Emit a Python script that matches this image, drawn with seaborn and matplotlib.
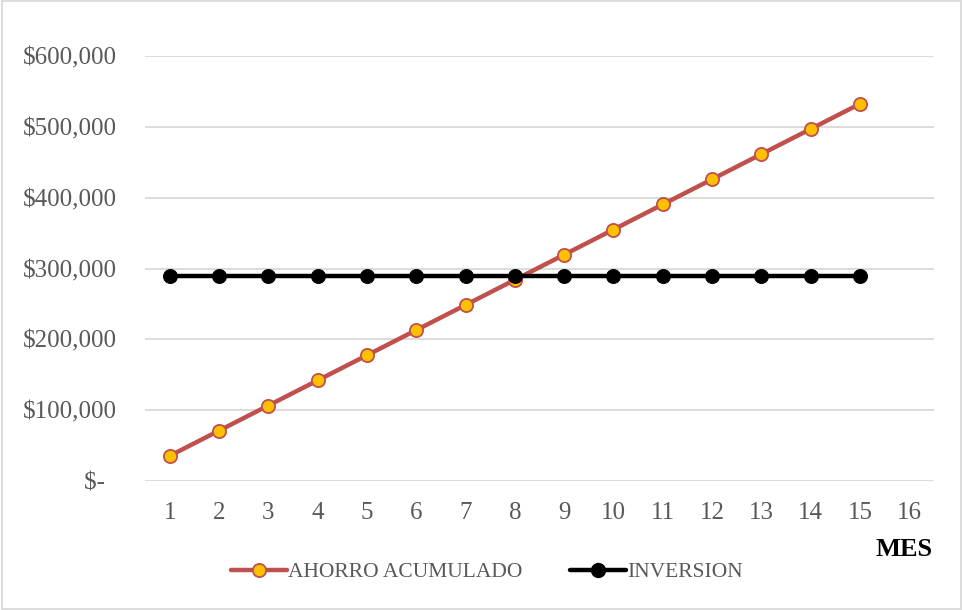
import matplotlib
matplotlib.use("Agg")
import matplotlib.pyplot as plt
import seaborn as sns
import pandas as pd
from matplotlib.patches import Rectangle
from matplotlib.lines import Line2D

meses = [1, 2, 3, 4, 5, 6, 7, 8, 9, 10, 11, 12, 13, 14, 15]
ahorro = [35500, 71000, 106500, 142000, 177500, 213000, 248500, 284000,
          319500, 355000, 390500, 426000, 461500, 497000, 532500]
inversion = [290000] * 15
x_ticks = list(range(1, 17))
y_ticks = [0, 100000, 200000, 300000, 400000, 500000, 600000]
y_labels = ["$-  ", "$100,000", "$200,000", "$300,000", "$400,000", "$500,000", "$600,000"]
series_names = ["AHORRO ACUMULADO", "INVERSION"]

df = pd.concat([
    pd.DataFrame({"MES": meses, "valor": ahorro, "serie": series_names[0]}),
    pd.DataFrame({"MES": meses, "valor": inversion, "serie": series_names[1]}),
])

sns.set_theme(style="white")
plt.rcParams["font.family"] = ["Liberation Serif", "DejaVu Serif"]

fig = plt.figure(figsize=(9.63, 6.10), dpi=100)
ax = fig.add_axes([145/963, 1-481/610, (934-145)/963, (481-56)/610])

red = "#C0504D"
sns.lineplot(data=df[df.serie == series_names[0]], x="MES", y="valor", ax=ax,
             color=red, linewidth=3.2, marker="o", markersize=9.5,
             markerfacecolor="#FFC000", markeredgecolor=red, markeredgewidth=1.3,
             legend=False, zorder=3)
sns.lineplot(data=df[df.serie == series_names[1]], x="MES", y="valor", ax=ax,
             color="black", linewidth=3.2, marker="o", markersize=10,
             markerfacecolor="black", markeredgecolor="black",
             legend=False, zorder=4)

ax.set_xlim(0.5, 16.5)
ax.set_ylim(0, 600000)
ax.set_xticks(x_ticks)
ax.set_xticklabels([str(v) for v in x_ticks])
ax.set_yticks(y_ticks)
ax.set_yticklabels(y_labels)
ax.grid(axis="y", color="#D9D9D9", linewidth=1.3)
ax.set_axisbelow(True)
for s in ax.spines.values():
    s.set_visible(False)
ax.tick_params(axis="both", length=0, labelsize=18, colors="#595959")
ax.tick_params(axis="y", pad=20)
ax.tick_params(axis="x", pad=15)
ax.set_xlabel("")
ax.set_ylabel("")

fig.text(933/963, 1-550/610, "MES", ha="right", va="center",
         fontsize=19, fontweight="bold", color="black")

handles = [
    Line2D([], [], color=red, linewidth=3.2, marker="o", markersize=9.5,
           markerfacecolor="#FFC000", markeredgecolor=red, markeredgewidth=1.3),
    Line2D([], [], color="black", linewidth=3.2, marker="o", markersize=10,
           markerfacecolor="black"),
]
fig.legend(handles, series_names, loc="center", bbox_to_anchor=(487/963, 1-572/610),
           ncol=2, frameon=False, fontsize=15.5, labelcolor="#595959",
           handlelength=2.6, handletextpad=0.05, columnspacing=2.2)

fig.patches.append(Rectangle((0.002, 0.002), 0.996, 0.996, transform=fig.transFigure,
                             fill=False, edgecolor="#D9D9D9", linewidth=1.3))

fig.savefig("out.png", dpi=100)
